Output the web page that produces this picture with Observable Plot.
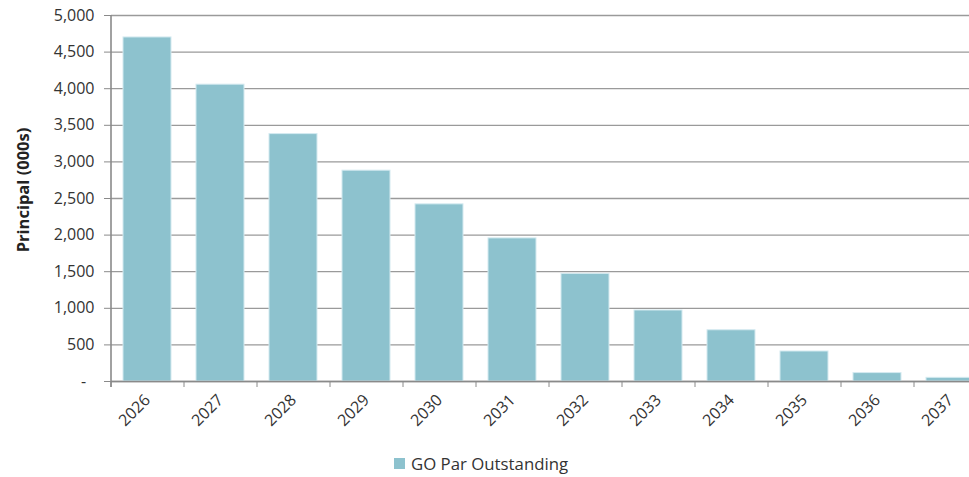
<!DOCTYPE html>
<html><head><meta charset="utf-8">
<script src="https://cdn.jsdelivr.net/npm/d3@7"></script>
<script src="https://cdn.jsdelivr.net/npm/@observablehq/plot@0.6"></script>
<style>
html,body{margin:0;padding:0;background:#fff;overflow:hidden;width:969px;height:477px;}
#chart{position:relative;width:969px;height:477px;font-family:"Open Sans",sans-serif;}
#legend{position:absolute;left:394px;top:452px;font-size:16.8px;color:#333;display:flex;align-items:center;font-family:"Open Sans",sans-serif;}
#legend span.sw{display:inline-block;width:11px;height:11px;background:#8DC2CE;margin-right:6px;}
#ylab{position:absolute;left:22px;top:190px;transform:translate(-50%,-50%) rotate(-90deg);font-weight:bold;font-size:16.5px;color:#222;white-space:nowrap;}
</style></head>
<body><div id="chart"></div>
<script>
const years = ["2026","2027","2028","2029","2030","2031","2032","2033","2034","2035","2036","2037"];
const principal = [4700,4055,3380,2880,2420,1955,1470,970,700,410,115,50];
const yTicks = [0,500,1000,1500,2000,2500,3000,3500,4000,4500,5000];
const seriesName = "GO Par Outstanding";
const yTitle = "Principal (000s)";

const data = years.map((y,i)=>({year:y, value:principal[i]}));
const W = 969, H = 440, mL = 111, mR = -18, mT = 15, mB = 59;
const step = (W - mL - mR) / years.length;

const fmt = d => d === 0 ? "-\u00a0\u00a0" : d3.format(",")(d);

const plot = Plot.plot({
  width: W, height: H,
  marginLeft: mL, marginRight: mR, marginTop: mT, marginBottom: mB,
  style: {fontFamily: "Open Sans, sans-serif", fontSize: "16px", color: "#333", background: "transparent", overflow: "visible"},
  x: {domain: years, paddingInner: 0.34, paddingOuter: 0.17, label: null},
  y: {domain: [0, 5000], label: null},
  marks: [
    Plot.gridY(yTicks, {stroke: "#9a9a9a", strokeOpacity: 1, strokeWidth: 1.3}),
    Plot.barY(data, {x: "year", y: "value", fill: "#8DC2CE", stroke: "#d4eaf0", strokeWidth: 1}),
    Plot.ruleY([0], {stroke: "#8a8a8a", strokeWidth: 1.6}),
    Plot.axisY({ticks: yTicks, tickFormat: fmt, tickSize: 7, tickPadding: 10, stroke: "#8a8a8a", label: null, fontSize: 16}),
    Plot.axisX({tickSize: 0, tickRotate: -45, tickPadding: 16, label: null, fontSize: 16}),
    Plot.axisX({tickSize: 6, tickFormat: () => "", dx: -step/2, stroke: "#8a8a8a", label: null})
  ]
});
document.getElementById("chart").appendChild(plot);

const svg = d3.select(plot);
const ys = plot.scale("y");
svg.append("line").attr("x1", mL).attr("x2", mL).attr("y1", ys.apply(5000)).attr("y2", ys.apply(0)+6).attr("stroke","#8a8a8a").attr("stroke-width",1.6);

const lab = document.createElement("div"); lab.id = "ylab"; lab.textContent = yTitle;
document.getElementById("chart").appendChild(lab);
const lg = document.createElement("div"); lg.id = "legend";
lg.innerHTML = '<span class="sw"></span><span></span>';
lg.lastChild.textContent = seriesName;
document.getElementById("chart").appendChild(lg);
</script></body></html>
